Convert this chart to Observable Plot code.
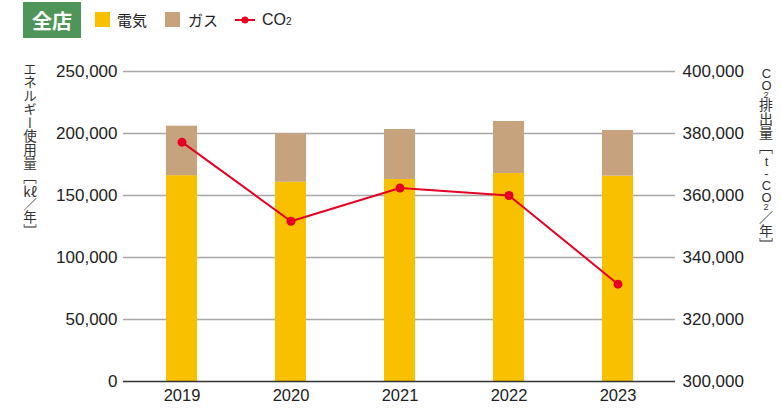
<!DOCTYPE html>
<html><head><meta charset="utf-8">
<script src="https://cdn.jsdelivr.net/npm/d3@7"></script>
<script src="https://cdn.jsdelivr.net/npm/@observablehq/plot@0.6"></script>
<style>
body{margin:0;background:#fff;font-family:"Liberation Sans",Arial,"Noto Sans CJK JP",sans-serif;color:#222;}
#wrap{position:relative;width:781px;height:409px;overflow:hidden;}
#legend{position:absolute;left:0;top:0;width:781px;height:40px;}
.badge{position:absolute;left:23px;top:2px;width:58px;height:36px;background:#4F9459;color:#fff;font:bold 20px "Noto Sans CJK JP";display:flex;align-items:center;justify-content:center;}
.sw{position:absolute;top:12px;width:15px;height:15px;}
.lt{position:absolute;top:9px;font:15px "Noto Sans CJK JP";line-height:22px;color:#222;}
.vt{position:absolute;writing-mode:vertical-rl;text-orientation:upright;font:14px "Noto Sans CJK JP";color:#333;line-height:15px;}
.tcu{text-combine-upright:all;}
.lat{font-family:"Liberation Sans",Arial;font-size:13px;letter-spacing:-3px;}
.lat2{font-family:"Liberation Sans",Arial;font-size:9px;letter-spacing:-2px;}
#chart{position:absolute;left:0;top:40px;}
</style></head><body>
<div id="wrap">
  <div id="legend"></div>
  <div id="chart"></div>
  <div class="vt" style="left:22px;top:62px;font-size:13.5px;">エネルギー使用量［<span class="tcu">kℓ</span>／年］</div>
  <div class="vt" style="left:758px;top:66px;"><span class="lat">CO</span><span class="lat2">2</span>排出量［<span class="lat">t-CO</span><span class="lat2">2</span>／年］</div>
</div>
<script>
const years = ["2019","2020","2021","2022","2023"];
const electricity = [166000, 160700, 162900, 167700, 165600];
const gas = [39900, 39000, 40300, 42000, 36800];
const co2 = [377200, 351700, 362400, 360000, 331400];
const leftTicks = [0, 50000, 100000, 150000, 200000, 250000];
const seriesNames = ["電気", "ガス"];
const seriesColors = ["#F9C000", "#C6A37D"];
const co2Color = "#E60023";

// legend
const lg = document.getElementById("legend");
lg.innerHTML = `
<div class="badge">全店</div>
<div class="sw" style="left:95px;background:${seriesColors[0]}"></div>
<div class="lt" style="left:117px">${seriesNames[0]}</div>
<div class="sw" style="left:165px;background:${seriesColors[1]}"></div>
<div class="lt" style="left:188px">${seriesNames[1]}</div>
<svg style="position:absolute;left:234px;top:13px" width="22" height="14"><line x1="1" x2="21" y1="7" y2="7" stroke="${co2Color}" stroke-width="2"/><circle cx="11" cy="7" r="3.5" fill="${co2Color}"/></svg>
<div class="lt" style="left:262px;font-family:'Liberation Sans',Arial;font-size:16px">CO<span style="font-size:10px">2</span></div>`;

const bars = [];
years.forEach((y, i) => {
  bars.push({year: y, type: seriesNames[0], value: electricity[i]});
  bars.push({year: y, type: seriesNames[1], value: gas[i]});
});
// map CO2 (300,000–400,000) onto the left scale (0–250,000)
const toLeft = v => (v - 300000) * 2.5;
const line = years.map((y, i) => ({year: y, v: toLeft(co2[i])}));
const fmt = d3.format(",");

const plot = Plot.plot({
  width: 781, height: 369,
  marginTop: 31, marginBottom: 28, marginLeft: 123, marginRight: 106,
  style: {fontFamily: "'Liberation Sans', Arial, sans-serif", fontSize: "17px", color: "#222", background: "transparent"},
  x: {domain: years, paddingInner: 0.716, paddingOuter: 0.384, label: null},
  y: {domain: [0, 250000], label: null},
  color: {domain: seriesNames, range: seriesColors},
  marks: [
    Plot.gridY(leftTicks.filter(d => d > 0), {stroke: "#A8A8A8", strokeOpacity: 1, strokeWidth: 1.6}),
    Plot.barY(bars, {x: "year", y: "value", fill: "type", order: seriesNames}),
    Plot.ruleY([0], {stroke: "#333", strokeWidth: 1.5}),
    Plot.axisY({anchor: "left", ticks: leftTicks, tickSize: 0, tickPadding: 6, tickFormat: fmt, label: null, letterSpacing: 0.4}),
    Plot.axisY({anchor: "right", ticks: leftTicks, tickSize: 0, tickPadding: 7, tickFormat: d => fmt(d / 2.5 + 300000), label: null, letterSpacing: 0.4}),
    Plot.axisX({tickSize: 0, tickPadding: 8, label: null, fontSize: 16.5}),
    Plot.line(line, {x: "year", y: "v", stroke: co2Color, strokeWidth: 2}),
    Plot.dot(line, {x: "year", y: "v", fill: co2Color, r: 4.5})
  ]
});
document.getElementById("chart").appendChild(plot);
</script>
</body></html>
